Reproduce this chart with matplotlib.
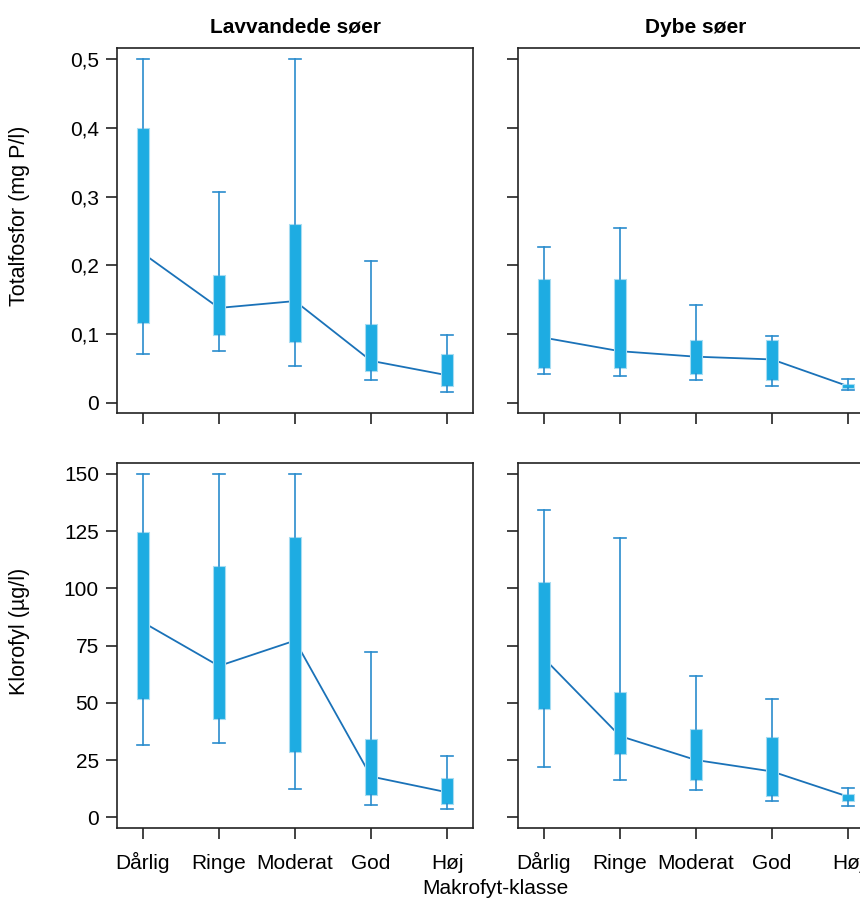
import numpy as np
import matplotlib.pyplot as plt
from matplotlib.ticker import FuncFormatter

plt.rcParams['font.family'] = ['Liberation Sans', 'DejaVu Sans']

klasser = ["Dårlig", "Ringe", "Moderat", "God", "Høj"]
titler = ["Lavvandede søer", "Dybe søer"]

# Totalfosfor (mg P/l): [min, q1, median, q3, max] per klasse
tp_lav = [[0.071, 0.1165, 0.2175, 0.400, 0.500],
          [0.076, 0.0985, 0.138, 0.186, 0.307],
          [0.053, 0.089, 0.148, 0.260, 0.500],
          [0.033, 0.0466, 0.061, 0.115, 0.207],
          [0.0155, 0.024, 0.040, 0.071, 0.0985]]
tp_dyb = [[0.042, 0.0505, 0.0947, 0.180, 0.227],
          [0.039, 0.0505, 0.075, 0.180, 0.254],
          [0.0325, 0.042, 0.067, 0.092, 0.142],
          [0.024, 0.033, 0.063, 0.091, 0.0966],
          [0.018, 0.022, 0.024, 0.027, 0.034]]

# Klorofyl (ug/l)
chl_lav = [[31.6, 51.7, 85.2, 124.5, 150.0],
           [32.6, 43.1, 66.1, 109.8, 150.0],
           [12.2, 28.7, 77.2, 122.3, 150.0],
           [5.5, 9.8, 17.8, 34.4, 72.4],
           [3.5, 5.8, 10.9, 17.2, 26.9]]
chl_dyb = [[22.1, 47.5, 69.5, 103.0, 134.3],
           [16.2, 27.8, 35.5, 54.8, 122.0],
           [11.9, 16.3, 25.0, 38.7, 61.9],
           [7.1, 9.5, 20.0, 35.0, 51.8],
           [5.1, 7.3, 9.0, 10.2, 12.7]]

box_fill = "#1eace2"
box_edge = "#a6dcf2"
whisker_col = "#2a8ccd"
line_col = "#1a72b8"

fig = plt.figure(figsize=(8.6, 9.01), dpi=100)
W, H = 860.0, 901.0
xs = [117, 518]
pw = 356
rows = [(48, 413), (463, 828)]

panels = [[tp_lav, tp_dyb], [chl_lav, chl_dyb]]
pos = np.arange(1, 6)
fs = 15


def komma(v, p):
    if v == 0:
        return "0"
    return ("%.1f" % v).replace(".", ",")


for r, (top, bot) in enumerate(rows):
    for c in range(2):
        ax = fig.add_axes([xs[c] / W, 1 - bot / H, pw / W, (bot - top) / H])
        data = panels[r][c]
        stats = [dict(whislo=d[0], q1=d[1], med=d[2], q3=d[3], whishi=d[4], fliers=[])
                 for d in data]
        meds = [d[2] for d in data]
        ax.plot(pos, meds, color=line_col, lw=1.3, zorder=1)
        ax.bxp(stats, positions=pos, widths=0.15, capwidths=0.15, patch_artist=True,
               showfliers=False,
               boxprops=dict(facecolor=box_fill, edgecolor=box_edge, lw=0.8),
               whiskerprops=dict(color=whisker_col, lw=1.2),
               capprops=dict(color=whisker_col, lw=1.2),
               medianprops=dict(visible=False), zorder=2)
        ax.set_xlim(0.66, 5.34)
        ax.set_xticks(pos)
        if r == 0:
            ax.set_ylim(-0.015, 0.5165)
            ax.set_yticks(np.arange(0, 0.51, 0.1))
            ax.yaxis.set_major_formatter(FuncFormatter(komma))
            ax.set_xticklabels([])
            ax.set_title(titler[c], fontsize=15, fontweight="bold", pad=11)
        else:
            ax.set_ylim(-4.7, 154.8)
            ax.set_yticks(np.arange(0, 151, 25))
            ax.set_xticklabels(klasser, va="baseline")
        if c == 1:
            ax.set_yticklabels([])
        ax.tick_params(direction="out", length=8, width=1.2, labelsize=fs,
                       colors="#222222", labelcolor="black")
        ax.tick_params(axis="x", pad=21.5)
        ax.tick_params(axis="y", pad=5)
        for s in ax.spines.values():
            s.set_linewidth(1.2)
            s.set_color("#222222")
        if c == 0:
            ax.set_ylabel(["Totalfosfor (mg P/l)", "Klorofyl (µg/l)"][r], fontsize=15.5)
            ax.yaxis.set_label_coords((30 - 117) / pw, 0.54)

fig.text(495 / W, 1 - 888 / H, "Makrofyt-klasse", ha="center", va="center", fontsize=fs)

fig.savefig("out.png", dpi=100)
